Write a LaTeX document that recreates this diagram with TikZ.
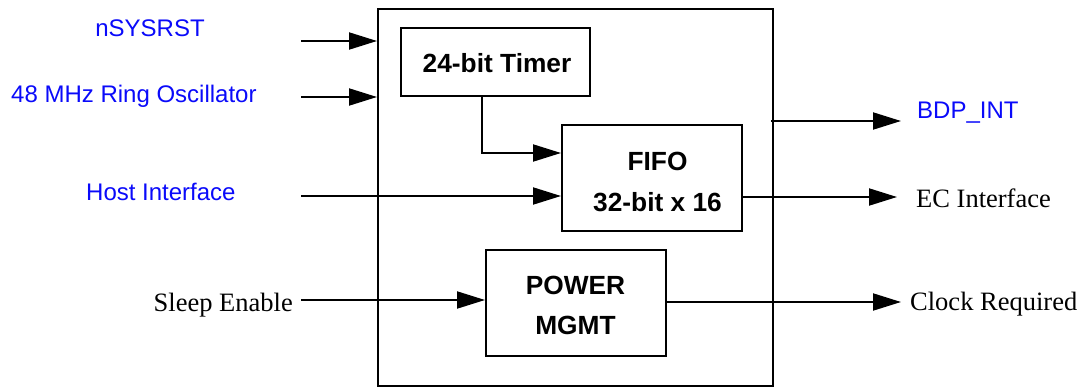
\documentclass[tikz,border=0pt]{standalone}
\usepackage{fontspec}
\setmainfont{Liberation Serif}
\setsansfont{Liberation Sans}
\usetikzlibrary{arrows.meta}
\definecolor{lblue}{RGB}{10,10,250}
\begin{document}
\begin{tikzpicture}[x=1pt,y=-1pt,
  blk/.style={draw,line width=2pt,inner sep=0pt},
  conn/.style={line width=2pt,-{Triangle[length=28pt,width=17pt]}},
  bluelbl/.style={font=\sffamily\fontsize{24}{27}\selectfont,text=lblue,inner sep=0pt},
  serlbl/.style={font=\rmfamily\fontsize{26.5}{30}\selectfont,inner sep=0pt},
  boldtxt/.style={font=\sffamily\bfseries\fontsize{26.3}{30}\selectfont,inner sep=0pt}]
\useasboundingbox (0,0) rectangle (1080,388);
% blocks
\node[blk,minimum width=395pt,minimum height=377pt] (outer) at (575.5,197.5) {};
\node[blk,minimum width=189pt,minimum height=68pt] (timer) at (495.5,62) {};
\node[boldtxt,anchor=base] (timertxt) at (497,72) {24-bit Timer};
\node[blk,minimum width=180pt,minimum height=106pt] (fifo) at (652,178) {};
\node[boldtxt,anchor=base] (fifo1) at (657.5,170) {FIFO};
\node[boldtxt,anchor=base] (fifo2) at (657.5,211) {32-bit x 16};
\node[blk,minimum width=180pt,minimum height=106pt] (pwr) at (576,303) {};
\node[boldtxt,anchor=base] (pwr1) at (575.5,294) {POWER};
\node[boldtxt,anchor=base] (pwr2) at (575.5,334) {MGMT};
% labels
\node[bluelbl,anchor=base] (l1) at (150,36) {nSYSRST};
\node[bluelbl,anchor=base west] (l2) at (11,102) {48 MHz Ring Oscillator};
\node[bluelbl,anchor=base west] (l3) at (86,200) {Host Interface};
\node[serlbl,anchor=base east] (l4) at (293,311) {Sleep Enable};
\node[bluelbl,anchor=base west] (r1) at (917,118) {BDP\_INT};
\node[serlbl,anchor=base west] (r2) at (916,207) {EC Interface};
\node[serlbl,anchor=base west] (r3) at (910,310) {Clock Required};
% free ends
\coordinate (a1) at (301,41);
\coordinate (a2) at (301,97);
\coordinate (a3) at (301,196);
\coordinate (a4) at (301,300);
\coordinate (b1) at (771,121);
\coordinate (e1) at (901,121);
\coordinate (e2) at (897,197);
\coordinate (e3) at (901,302);
% connectors
\draw[conn] (a1) -- (a1 -| outer.west);
\draw[conn] (a2) -- (a2 -| outer.west);
\draw[conn] (a3) -- (a3 -| fifo.west);
\draw[conn] (a4) -- (a4 -| pwr.west);
\draw[conn] (timer.south -| 482,0) |- (fifo.west |- 0,153);
\draw[conn] (b1) -- (e1);
\draw[conn] (fifo.east |- e2) -- (e2);
\draw[conn] (pwr.east |- e3) -- (e3);
\end{tikzpicture}
\end{document}
